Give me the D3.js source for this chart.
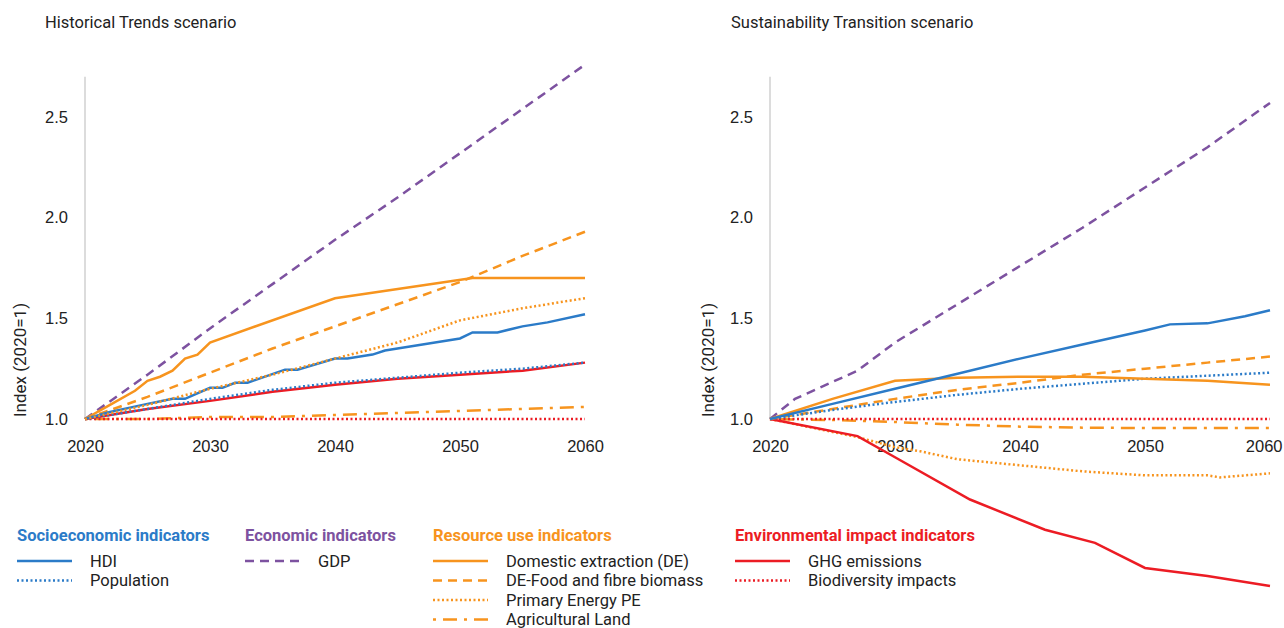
<!DOCTYPE html>
<html>
<head>
<meta charset="utf-8">
<script src="https://cdn.jsdelivr.net/npm/d3@7"></script>
<style>
  body { margin: 0; background: #fff; }
  svg { font-family: Roboto, "Noto Sans", sans-serif; }
</style>
</head>
<body>
<svg id="chart" width="1284" height="628"></svg>
<script>
// ---- data (index, 2020 = 1) ----
const fiveYears = [2020, 2025, 2030, 2035, 2040, 2045, 2050, 2055, 2060];
const yTicks = [1.0, 1.5, 2.0, 2.5];
const xTicks = [2020, 2030, 2040, 2050, 2060];

// Historical Trends scenario
const htGdp = [1.0, 1.22, 1.45, 1.67, 1.89, 2.10, 2.32, 2.54, 2.76];
const htFood = [1.0, 1.11, 1.23, 1.35, 1.46, 1.57, 1.68, 1.81, 1.93];
const htEnergy = [1.0, 1.07, 1.15, 1.22, 1.30, 1.38, 1.49, 1.55, 1.60];
const htPop = [1.0, 1.05, 1.10, 1.145, 1.18, 1.205, 1.23, 1.25, 1.28];
const htGhg = [1.0, 1.05, 1.09, 1.135, 1.17, 1.20, 1.22, 1.24, 1.28];
const htLand = [1.0, 1.0, 1.01, 1.01, 1.02, 1.03, 1.04, 1.05, 1.06];
const htBio = [1.0, 1.0, 1.0, 1.0, 1.0, 1.0, 1.0, 1.0, 1.0];
const htHdiYears = [2020, 2022, 2025, 2027, 2028, 2030, 2031, 2032, 2033, 2036, 2037, 2040, 2041, 2043, 2044, 2046, 2048, 2050, 2051, 2053, 2055, 2057, 2060];
const htHdi = [1.0, 1.035, 1.075, 1.10, 1.10, 1.155, 1.155, 1.18, 1.18, 1.245, 1.245, 1.30, 1.30, 1.32, 1.34, 1.36, 1.38, 1.40, 1.43, 1.43, 1.46, 1.48, 1.52];
const htDeYears = [2020, 2022, 2024, 2025, 2026, 2027, 2028, 2029, 2030, 2040, 2051, 2060];
const htDe = [1.0, 1.07, 1.14, 1.19, 1.21, 1.24, 1.30, 1.32, 1.38, 1.60, 1.70, 1.70];

// Sustainability Transition scenario
const stGdpYears = [2020, 2022, 2027, 2030, 2035, 2040, 2045, 2050, 2055, 2060];
const stGdp = [1.0, 1.10, 1.24, 1.38, 1.57, 1.76, 1.95, 2.15, 2.35, 2.57];
const stHdiYears = [2020, 2025, 2030, 2035, 2040, 2045, 2050, 2052, 2055, 2058, 2060];
const stHdi = [1.0, 1.075, 1.15, 1.225, 1.30, 1.37, 1.44, 1.47, 1.475, 1.51, 1.54];
const stDe = [1.0, 1.10, 1.19, 1.205, 1.21, 1.21, 1.20, 1.19, 1.17];
const stFood = [1.0, 1.05, 1.10, 1.145, 1.18, 1.22, 1.25, 1.28, 1.31];
const stPop = [1.0, 1.045, 1.085, 1.12, 1.15, 1.175, 1.20, 1.215, 1.23];
const stLand = [1.0, 0.995, 0.985, 0.972, 0.962, 0.957, 0.955, 0.955, 0.955];
const stBio = [1.0, 1.0, 1.0, 1.0, 1.0, 1.0, 1.0, 1.0, 1.0];
const stEnergyYears = [2020, 2027, 2030, 2032, 2035, 2040, 2045, 2050, 2055, 2056, 2060];
const stEnergy = [1.0, 0.91, 0.86, 0.84, 0.80, 0.77, 0.74, 0.72, 0.72, 0.71, 0.73];
const stGhgYears = [2020, 2027, 2030, 2036, 2042, 2046, 2050, 2055, 2060];
const stGhg = [1.0, 0.915, 0.81, 0.60, 0.45, 0.385, 0.26, 0.22, 0.17];

// ---- styles ----
const BLUE = '#2b7bc8', PURPLE = '#7d52a0', ORANGE = '#f7941e', RED = '#ec1c24';
const FONT = '16.5px';
const styles = {
  hdi:    { color: BLUE,   dash: null },
  pop:    { color: BLUE,   dash: '2,2.5' },
  gdp:    { color: PURPLE, dash: '9,6' },
  de:     { color: ORANGE, dash: null },
  food:   { color: ORANGE, dash: '9,6' },
  energy: { color: ORANGE, dash: '2,2.5' },
  land:   { color: ORANGE, dash: '3,7,14,7' },
  ghg:    { color: RED,    dash: null },
  bio:    { color: RED,    dash: '2,2.5' }
};

const zip = (xs, ys) => xs.map((x, i) => ({ year: x, value: ys[i] }));

const panels = [
  {
    title: 'Historical Trends scenario', titleX: 45, x0: 85, labelX: 20,
    series: [
      ['land', zip(fiveYears, htLand)],
      ['bio', zip(fiveYears, htBio)],
      ['gdp', zip(fiveYears, htGdp)],
      ['food', zip(fiveYears, htFood)],
      ['de', zip(htDeYears, htDe)],
      ['ghg', zip(fiveYears, htGhg)],
      ['pop', zip(fiveYears, htPop)],
      ['hdi', zip(htHdiYears, htHdi)],
      ['energy', zip(fiveYears, htEnergy)]
    ]
  },
  {
    title: 'Sustainability Transition scenario', titleX: 731, x0: 770, labelX: 708,
    series: [
      ['land', zip(fiveYears, stLand)],
      ['energy', zip(stEnergyYears, stEnergy)],
      ['ghg', zip(stGhgYears, stGhg)],
      ['bio', zip(fiveYears, stBio)],
      ['gdp', zip(stGdpYears, stGdp)],
      ['food', zip(fiveYears, stFood)],
      ['pop', zip(fiveYears, stPop)],
      ['de', zip(fiveYears, stDe)],
      ['hdi', zip(stHdiYears, stHdi)]
    ]
  }
];

const svg = d3.select('#chart');

panels.forEach(p => {
  const x = d3.scaleLinear().domain([2020, 2060]).range([p.x0, p.x0 + 500]);
  const y = d3.scaleLinear().domain([1.0, 2.5]).range([419, 117]);

  svg.append('text')
    .attr('x', p.titleX).attr('y', 28)
    .style('font-size', FONT).style('fill', '#222')
    .text(p.title);

  // y axis
  const yAxis = svg.append('g')
    .attr('transform', `translate(${p.x0},0)`)
    .call(d3.axisLeft(y).tickValues(yTicks).tickFormat(d3.format('.1f')).tickSize(0).tickPadding(17));
  yAxis.select('.domain').remove();
  yAxis.append('line')
    .attr('x1', 0).attr('x2', 0).attr('y1', y(2.7)).attr('y2', y(1.0))
    .attr('stroke', '#d0d0d0').attr('stroke-width', 1.5);
  yAxis.selectAll('text').style('font-size', FONT).style('fill', '#222').attr('font-family', null);

  // x axis
  const xAxis = svg.append('g')
    .attr('transform', 'translate(0,440)')
    .call(d3.axisBottom(x).tickValues(xTicks).tickFormat(d3.format('d')).tickSize(0).tickPadding(0));
  xAxis.select('.domain').remove();
  xAxis.selectAll('text').style('font-size', FONT).style('fill', '#222').attr('font-family', null);
  // keep the last year label inside the page
  xAxis.selectAll('text').filter(d => x(d) + 20 > 1284).attr('x', 1282 - x(2060)).attr('text-anchor', 'end');

  svg.append('text')
    .attr('transform', `translate(${p.labelX},360) rotate(-90)`)
    .attr('text-anchor', 'middle').attr('dy', '0.35em')
    .style('font-size', '17px').style('fill', '#222')
    .text('Index (2020=1)');

  const line = d3.line().x(d => x(d.year)).y(d => y(d.value));
  p.series.forEach(([key, data]) => {
    const s = styles[key];
    svg.append('path')
      .datum(data)
      .attr('d', line)
      .attr('fill', 'none')
      .attr('stroke', s.color)
      .attr('stroke-width', 2.5)
      .attr('stroke-dasharray', s.dash);
  });
});

// ---- legend ----
const legendGroups = [
  { title: 'Socioeconomic indicators', color: BLUE, x: 17, items: [['hdi', 'HDI'], ['pop', 'Population']] },
  { title: 'Economic indicators', color: PURPLE, x: 245, items: [['gdp', 'GDP']] },
  { title: 'Resource use indicators', color: ORANGE, x: 433,
    items: [['de', 'Domestic extraction (DE)'], ['food', 'DE-Food and fibre biomass'], ['energy', 'Primary Energy PE'], ['land', 'Agricultural Land']] },
  { title: 'Environmental impact indicators', color: RED, x: 735, items: [['ghg', 'GHG emissions'], ['bio', 'Biodiversity impacts']] }
];

legendGroups.forEach(g => {
  const lg = svg.append('g').attr('transform', `translate(${g.x},0)`);
  lg.append('text')
    .attr('x', 0).attr('y', 541)
    .style('font-size', FONT).style('font-weight', 'bold').style('fill', g.color)
    .text(g.title);
  g.items.forEach(([key, label], i) => {
    const yy = 561 + i * 19.5;
    const s = styles[key];
    lg.append('line')
      .attr('x1', 0).attr('x2', 55).attr('y1', yy).attr('y2', yy)
      .attr('stroke', s.color).attr('stroke-width', 2.5)
      .attr('stroke-dasharray', s.dash);
    lg.append('text')
      .attr('x', 73).attr('y', yy).attr('dy', '0.35em')
      .style('font-size', FONT).style('fill', '#222')
      .text(label);
  });
});
</script>
</body>
</html>
